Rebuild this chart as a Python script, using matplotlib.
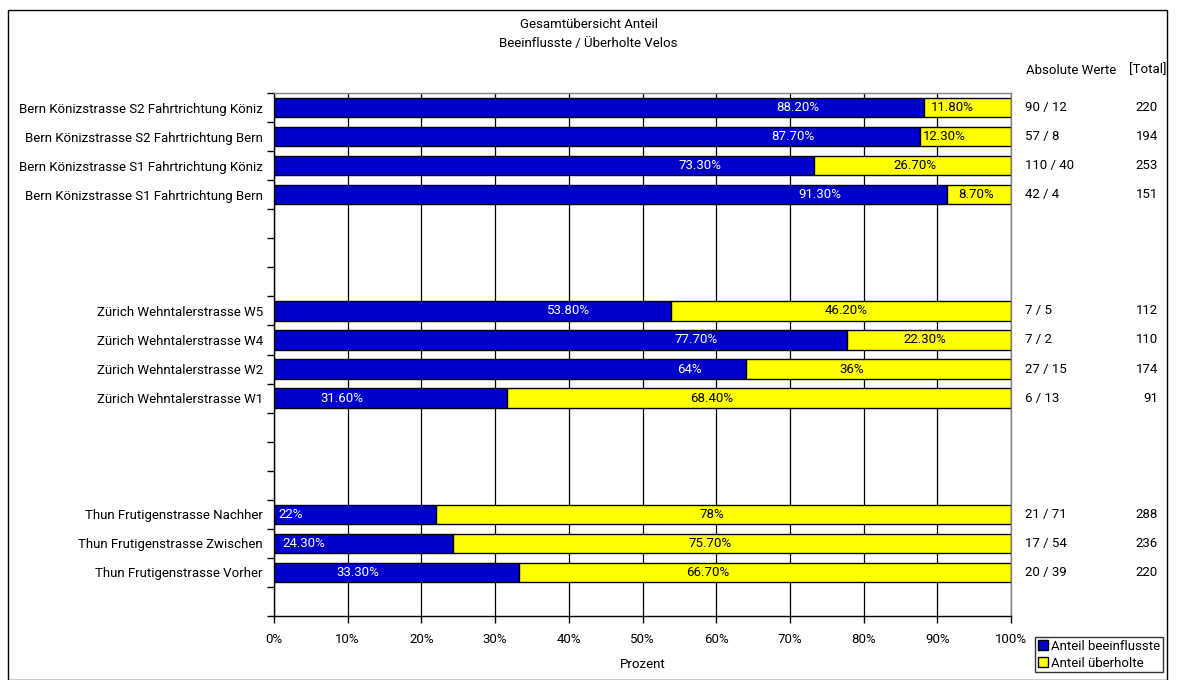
import numpy as np
import matplotlib
matplotlib.use("Agg")
import matplotlib.pyplot as plt
from matplotlib.patches import Rectangle, Patch

plt.rcParams['font.family'] = ['Roboto', 'DejaVu Sans']

# Daten
standorte = [
    "Bern Könizstrasse S2 Fahrtrichtung Köniz",
    "Bern Könizstrasse S2 Fahrtrichtung Bern",
    "Bern Könizstrasse S1 Fahrtrichtung Köniz",
    "Bern Könizstrasse S1 Fahrtrichtung Bern",
    "Zürich Wehntalerstrasse W5",
    "Zürich Wehntalerstrasse W4",
    "Zürich Wehntalerstrasse W2",
    "Zürich Wehntalerstrasse W1",
    "Thun Frutigenstrasse Nachher",
    "Thun Frutigenstrasse Zwischen",
    "Thun Frutigenstrasse Vorher",
]
slots = [0, 1, 2, 3, 7, 8, 9, 10, 14, 15, 16]   # Kategorie-Position (Lücken = leere Kategorien)
n_slots = 18
anteil_beeinflusst = [88.2, 87.7, 73.3, 91.3, 53.8, 77.7, 64.0, 31.6, 22.0, 24.3, 33.3]
anteil_ueberholt = [11.8, 12.3, 26.7, 8.7, 46.2, 22.3, 36.0, 68.4, 78.0, 75.7, 66.7]
absolute_werte = ["90 / 12", "57 / 8", "110 / 40", "42 / 4", "7 / 5", "7 / 2",
                  "27 / 15", "6 / 13", "21 / 71", "17 / 54", "20 / 39"]
total = [220, 194, 253, 151, 112, 110, 174, 91, 288, 236, 220]

# Label-Positionen (in Prozent-Einheiten, wie im Original platziert)
pos_label_blau = [71.1, 70.4, 57.8, 74.1, 39.9, 57.3, 56.4, 9.2, 2.2, 4.1, 11.4]
pos_label_gelb = [92.0, 90.9, 87.0, 95.3, 77.6, 88.3, 78.4, 59.4, 59.4, 59.2, 58.8]

BLAU = '#0000CC'
GELB = '#FFFF00'
FS = 9.5


def fmt(v):
    if abs(v - round(v)) < 1e-9:
        return f'{int(round(v))}%'
    return f'{v:.2f}%'


W, H = 1177, 680
fig = plt.figure(figsize=(W / 100, H / 100), dpi=100, facecolor='white')
ax = fig.add_axes([274 / W, 1 - 616 / H, (1011 - 274) / W, (616 - 93) / H])

# Rahmen um das Diagramm
fig.patches.append(Rectangle((8 / W, 0.5 / H), (1167 - 8) / W, (670 - 0.5) / H,
                             transform=fig.transFigure, fill=False,
                             edgecolor='black', linewidth=1.0, zorder=0))

ax.grid(True, axis='x', color='black', linewidth=0.9, zorder=0)
ax.set_axisbelow(True)

ax.barh(slots, anteil_beeinflusst, height=0.66, color=BLAU,
        edgecolor='black', linewidth=1.0, zorder=2, label='Anteil beeinflusste')
ax.barh(slots, anteil_ueberholt, left=anteil_beeinflusst, height=0.66, color=GELB,
        edgecolor='black', linewidth=1.0, zorder=2, label='Anteil überholte')

for i, s in enumerate(slots):
    ax.text(pos_label_blau[i], s, fmt(anteil_beeinflusst[i]), color='white',
            ha='center', va='center', fontsize=FS, zorder=3)
    ax.text(pos_label_gelb[i], s, fmt(anteil_ueberholt[i]), color='black',
            ha='center', va='center', fontsize=FS, zorder=3)
    ax.text(1.019, s, absolute_werte[i], transform=ax.get_yaxis_transform(),
            ha='left', va='center', fontsize=FS, clip_on=False)
    ax.text(1.1995, s, str(total[i]), transform=ax.get_yaxis_transform(),
            ha='right', va='center', fontsize=FS, clip_on=False)

ax.set_xlim(0, 100)
ax.set_ylim(n_slots - 0.5, -0.5)
ax.set_xticks(np.arange(0, 101, 10))
ax.set_xticklabels([f'{t}%' for t in range(0, 101, 10)], fontsize=FS)
ax.set_yticks(slots)
ax.set_yticklabels(standorte, fontsize=FS)
ax.set_yticks(np.arange(-0.5, n_slots, 1), minor=True)
ax.tick_params(axis='y', which='major', length=0, pad=8)
ax.tick_params(axis='y', which='minor', length=5, direction='out', width=1)
ax.tick_params(axis='x', length=5, direction='out', width=1, pad=7)
ax.set_xlabel('Prozent', fontsize=FS, labelpad=9)

for sp in ['left', 'bottom']:
    ax.spines[sp].set_color('black')
    ax.spines[sp].set_linewidth(1.0)
for sp in ['top', 'right']:
    ax.spines[sp].set_color('#808080')
    ax.spines[sp].set_linewidth(1.0)

fig.text(0.5, 1 - 25 / H, 'Gesamtübersicht Anteil', ha='center', va='center', fontsize=FS)
fig.text(0.5, 1 - 43 / H, 'Beeinflusste / Überholte Velos', ha='center', va='center', fontsize=FS)
fig.text(1026 / W, 1 - 70 / H, 'Absolute Werte', ha='left', va='center', fontsize=FS)
fig.text(1166 / W, 1 - 70 / H, '[Total]', ha='right', va='center', fontsize=FS)

handles = [Patch(facecolor=BLAU, edgecolor='black', label='Anteil beeinflusste'),
           Patch(facecolor=GELB, edgecolor='black', label='Anteil überholte')]
fig.legend(handles=handles, loc='upper left', bbox_to_anchor=(1035 / W, 1 - 637 / H),
           fontsize=FS, frameon=True, fancybox=False, edgecolor='black',
           handlelength=0.8, handleheight=0.8, handletextpad=0.2,
           borderpad=0.2, labelspacing=0.3, borderaxespad=0)

fig.savefig('out.png', dpi=100)
